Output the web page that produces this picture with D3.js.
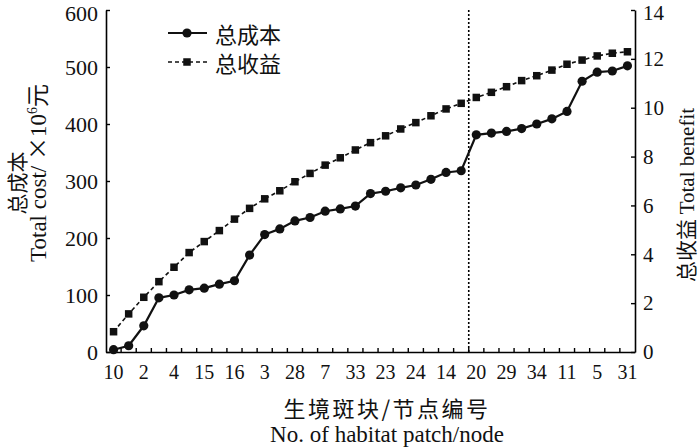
<!DOCTYPE html>
<html>
<head>
<meta charset="utf-8">
<script src="https://cdn.jsdelivr.net/npm/d3@7"></script>
<style>
  html, body { margin: 0; padding: 0; background: #fff; }
  svg { display: block; }
  .serif { font-family: "Liberation Serif", "Times New Roman", serif; }
  .cjk { font-family: "Noto Sans CJK SC", sans-serif; }
</style>
</head>
<body>
<svg id="chart" width="700" height="447"></svg>
<script>
// ---- data ----
// 35 habitat patches/nodes in ranked order; only every other label is printed
const tickLabels = ["10","","2","","4","","15","","16","","3","","28","","7","","33","",
                    "23","","24","","14","","20","","29","","34","","11","","5","","31"];
const totalCost = [4, 11, 46, 95, 100, 109, 112, 119, 125, 170, 206, 216, 230, 236, 247, 251, 256,
                   278, 282, 288, 293, 303, 315, 318, 381, 384, 387, 392, 400, 409, 422, 475, 491, 493, 502];
const totalBenefit = [0.83, 1.56, 2.24, 2.88, 3.47, 4.07, 4.52, 4.97, 5.44, 5.88, 6.27, 6.60, 6.97,
                      7.31, 7.65, 7.95, 8.27, 8.57, 8.85, 9.13, 9.39, 9.67, 9.95, 10.18, 10.42, 10.63,
                      10.86, 11.11, 11.31, 11.54, 11.78, 11.95, 12.12, 12.23, 12.29];
const costTicks = [0, 100, 200, 300, 400, 500, 600];
const benefitTicks = [0, 2, 4, 6, 8, 10, 12, 14];
const splitIndex = 24; // dotted divider before patch "20"
const legendNames = ["总成本", "总收益"];

// ---- layout ----
const svg = d3.select("#chart");
const L = 106, R = 635, T = 10, B = 352;
const idx = d3.range(tickLabels.length);
const x = d3.scaleBand().domain(idx).range([L, R]).paddingInner(0).paddingOuter(0);
const yL = d3.scaleLinear().domain([0, 600]).range([B, T]);
const yR = d3.scaleLinear().domain([0, 14]).range([B, T]);
const cx = i => x(i) + x.bandwidth() / 2;

// ---- axes ----
const gL = svg.append("g").attr("transform", `translate(${L},0)`)
  .call(d3.axisLeft(yL).tickValues(costTicks).tickSize(-4).tickSizeOuter(0).tickPadding(8));
const gR = svg.append("g").attr("transform", `translate(${R},0)`)
  .call(d3.axisRight(yR).tickValues(benefitTicks).tickSize(-4).tickSizeOuter(0).tickPadding(8));
const gB = svg.append("g").attr("transform", `translate(0,${B})`)
  .call(d3.axisBottom(x).tickFormat(i => tickLabels[i]).tickSize(0).tickSizeOuter(0).tickPadding(13));

[gL, gR, gB].forEach(g => {
  g.select(".domain").attr("stroke", "#000").attr("stroke-width", 1.6);
  g.selectAll(".tick line").attr("stroke", "#000").attr("stroke-width", 1.4);
  g.selectAll("text").attr("class", "serif").attr("fill", "#111");
});
gL.selectAll("text").attr("font-size", 22);
gR.selectAll("text").attr("font-size", 21);
gB.selectAll("text").attr("font-size", 20);
// keep the top labels inside the picture
gL.selectAll(".tick text").filter(d => d === 600).attr("y", 3);
gR.selectAll(".tick text").filter(d => d === 14).attr("y", 3);

// band-boundary ticks on the x axis (pointing up)
svg.append("g").selectAll("line").data(idx.slice(1)).join("line")
  .attr("x1", i => x(i)).attr("x2", i => x(i))
  .attr("y1", B).attr("y2", B - 4)
  .attr("stroke", "#000").attr("stroke-width", 1.4);

// ---- dotted divider ----
svg.append("line")
  .attr("x1", x(splitIndex)).attr("x2", x(splitIndex))
  .attr("y1", yL(600)).attr("y2", yL(0))
  .attr("stroke", "#000").attr("stroke-width", 1.6).attr("stroke-dasharray", "2,2");

// ---- benefit series (dashed, squares) ----
const lineR = d3.line().x((d, i) => cx(i)).y(d => yR(d));
svg.append("path").datum(totalBenefit).attr("d", lineR)
  .attr("fill", "none").attr("stroke", "#111").attr("stroke-width", 1.6)
  .attr("stroke-dasharray", "4,3");
const sq = 7.5;
svg.append("g").selectAll("rect").data(totalBenefit).join("rect")
  .attr("x", (d, i) => cx(i) - sq / 2).attr("y", d => yR(d) - sq / 2)
  .attr("width", sq).attr("height", sq).attr("fill", "#111");

// ---- cost series (solid, circles) ----
const lineL = d3.line().x((d, i) => cx(i)).y(d => yL(d));
svg.append("path").datum(totalCost).attr("d", lineL)
  .attr("fill", "none").attr("stroke", "#111").attr("stroke-width", 2.2);
svg.append("g").selectAll("circle").data(totalCost).join("circle")
  .attr("cx", (d, i) => cx(i)).attr("cy", d => yL(d)).attr("r", 4.6).attr("fill", "#111");

// ---- legend ----
const lg = svg.append("g");
const rows = [33, 62];
lg.append("line").attr("x1", 168).attr("x2", 207).attr("y1", rows[0]).attr("y2", rows[0])
  .attr("stroke", "#111").attr("stroke-width", 2);
lg.append("circle").attr("cx", 187).attr("cy", rows[0]).attr("r", 4.6).attr("fill", "#111");
lg.append("line").attr("x1", 168).attr("x2", 207).attr("y1", rows[1]).attr("y2", rows[1])
  .attr("stroke", "#111").attr("stroke-width", 1.6).attr("stroke-dasharray", "4,3");
lg.append("rect").attr("x", 187 - sq / 2).attr("y", rows[1] - sq / 2).attr("width", sq).attr("height", sq).attr("fill", "#111");
legendNames.forEach((n, k) => {
  lg.append("text").attr("class", "cjk").attr("x", 215).attr("y", rows[k])
    .attr("dominant-baseline", "central").attr("font-size", 22).attr("fill", "#111").text(n);
});

// ---- axis titles ----
svg.append("text").attr("class", "cjk").attr("x", 387).attr("y", 417)
  .attr("text-anchor", "middle").attr("font-size", 22).attr("letter-spacing", 2.5)
  .attr("fill", "#111").text("生境斑块/节点编号");
svg.append("text").attr("class", "serif").attr("x", 387).attr("y", 442)
  .attr("text-anchor", "middle").attr("font-size", 23).attr("fill", "#111")
  .text("No. of habitat patch/node");

// left title
svg.append("text").attr("class", "cjk")
  .attr("transform", "translate(16,183) rotate(-90)")
  .attr("text-anchor", "middle").attr("dominant-baseline", "central")
  .attr("font-size", 21).attr("fill", "#111").text("总成本");
const lt = svg.append("text").attr("class", "serif")
  .attr("transform", "translate(46,173) rotate(-90)")
  .attr("text-anchor", "middle")
  .attr("font-size", 23).attr("fill", "#111");
lt.append("tspan").text("Total cost/ ");
lt.append("tspan").attr("class", "cjk").text("×");
lt.append("tspan").text("10");
lt.append("tspan").attr("font-size", 14).attr("dy", -9).text("6");
lt.append("tspan").attr("class", "cjk").attr("dy", 9).text("元");

// right title
const rt = svg.append("text")
  .attr("transform", "translate(694,195) rotate(-90)")
  .attr("text-anchor", "middle")
  .attr("font-size", 21).attr("fill", "#111");
rt.append("tspan").attr("class", "cjk").text("总收益 ");
rt.append("tspan").attr("class", "serif").text("Total benefit");
</script>
</body>
</html>
